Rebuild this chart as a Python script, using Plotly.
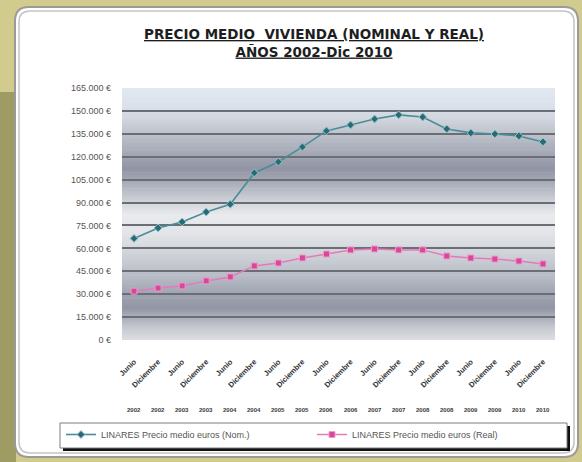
import plotly.graph_objects as go

# ---- data -----------------------------------------------------------------
periods = ["Junio", "Diciembre"] * 9
years = [2002, 2002, 2003, 2003, 2004, 2004, 2005, 2005, 2006, 2006,
         2007, 2007, 2008, 2008, 2009, 2009, 2010, 2010]
nominal = [66500, 73400, 77300, 83800, 88900, 109400, 116600, 126400, 136900,
           140800, 144700, 147400, 146000, 138200, 135600, 134900, 133600, 129700]
real = [32000, 34000, 35400, 38700, 41300, 48500, 50400, 53700, 56300,
        59000, 59600, 59000, 59000, 55000, 53700, 53000, 51700, 49800]
y_tick_values = [0, 15000, 30000, 45000, 60000, 75000, 90000, 105000,
                 120000, 135000, 150000, 165000]
y_tick_labels = ["0 €", "15.000 €", "30.000 €", "45.000 €", "60.000 €", "75.000 €",
                 "90.000 €", "105.000 €", "120.000 €", "135.000 €", "150.000 €", "165.000 €"]
series_names = ["LINARES Precio medio euros (Nom.)", "LINARES Precio medio euros (Real)"]

# ---- geometry helpers -----------------------------------------------------
W, H = 582, 462
ML, MR, MT, MB = 122, 27, 88, 122
PW, PH = W - ML - MR, H - MT - MB


def px(x):
    return (x - ML) / PW


def py(y):
    return (H - MB - y) / PH


def rounded_rect(x0, y0, x1, y1, r):
    rx, ry = r / PW, r / PH
    a, b, c, d = px(x0), py(y1), px(x1), py(y0)
    return (f"M{a+rx},{b} L{c-rx},{b} Q{c},{b} {c},{b+ry} L{c},{d-ry} Q{c},{d} {c-rx},{d} "
            f"L{a+rx},{d} Q{a},{d} {a},{d-ry} L{a},{b+ry} Q{a},{b} {a+rx},{b} Z")


def hex2rgb(h):
    h = h.lstrip("#")
    return tuple(int(h[i:i + 2], 16) for i in (0, 2, 4))


def mix(c1, c2, t):
    a, b = hex2rgb(c1), hex2rgb(c2)
    return "rgb(%d,%d,%d)" % tuple(round(a[i] + (b[i] - a[i]) * t) for i in range(3))


# banded grey gradient of the plotting area (value, colour)
grad_stops = [(0, "#dcdee3"), (8000, "#c6c9d0"), (21000, "#9296a4"), (30000, "#a0a4b1"),
              (42000, "#b8bcc6"), (55000, "#cdd0d6"), (70000, "#e2e4e8"), (82000, "#e9ebee"),
              (93000, "#c8cbd2"), (104000, "#a6aab6"), (112000, "#9094a4"), (122000, "#a4a8b5"),
              (135000, "#bec2cb"), (145000, "#d1d5dd"), (152000, "#dae0e9"), (165000, "#e2e9f1")]

shapes = []
# page background pieces
shapes.append(dict(type="rect", xref="paper", yref="paper", x0=px(0), x1=px(16),
                   y0=py(462), y1=py(92), fillcolor="#9e9c62", line_width=0, layer="below"))
# white card with double grey border
shapes.append(dict(type="path", xref="paper", yref="paper",
                   path=rounded_rect(15, 7, 578, 457, 14), fillcolor="white",
                   line=dict(color="#9a9a9a", width=2), layer="below"))
shapes.append(dict(type="path", xref="paper", yref="paper",
                   path=rounded_rect(19, 11, 574, 453, 11), fillcolor="white",
                   line=dict(color="#c4c4c4", width=1.5), layer="below"))

n_strips = 110
top = 165000
for i in range(n_strips):
    v0 = top * i / n_strips
    v1 = top * (i + 1) / n_strips
    vm = (v0 + v1) / 2
    for j in range(len(grad_stops) - 1):
        if grad_stops[j][0] <= vm <= grad_stops[j + 1][0]:
            t = (vm - grad_stops[j][0]) / (grad_stops[j + 1][0] - grad_stops[j][0])
            col = mix(grad_stops[j][1], grad_stops[j + 1][1], t)
            break
    # slight overlap hides anti-aliasing seams between strips
    shapes.append(dict(type="rect", xref="paper", yref="y", x0=0, x1=1, y0=v0,
                       y1=min(top, v1 + 400), fillcolor=col, line_width=0, layer="below"))

# legend frame with drop shadow
shapes.append(dict(type="rect", xref="paper", yref="paper", x0=px(63), x1=px(570),
                   y0=py(451), y1=py(426), fillcolor="#111111", line_width=0, layer="above"))
shapes.append(dict(type="rect", xref="paper", yref="paper", x0=px(60), x1=px(567),
                   y0=py(448), y1=py(423), fillcolor="white",
                   line=dict(color="#7c7c7c", width=1), layer="above"))

# ---- figure ---------------------------------------------------------------
x_idx = list(range(len(periods)))

fig = go.Figure()
fig.add_trace(go.Scatter(
    x=x_idx, y=nominal, name=series_names[0], mode="lines+markers",
    line=dict(color="#4a8d98", width=1.6),
    marker=dict(symbol="diamond", size=6, color="#2b6a73",
                line=dict(color="#8cc4cc", width=1)),
))
fig.add_trace(go.Scatter(
    x=x_idx, y=real, name=series_names[1], mode="lines+markers",
    line=dict(color="#e47ab8", width=1.5),
    marker=dict(symbol="square", size=6, color="#d6489a",
                line=dict(color="#ee9ccb", width=1)),
))

annotations = []
for i, yr in enumerate(years):
    annotations.append(dict(x=i, y=py(410), xref="x", yref="paper", text=f"<b>{yr}</b>",
                            showarrow=False, yanchor="middle",
                            font=dict(size=6, color="#3a3a3a", family="Liberation Sans")))

fig.update_layout(
    width=W, height=H,
    margin=dict(l=ML, r=MR, t=MT, b=MB, pad=0, autoexpand=False),
    paper_bgcolor="#d1cb8d",
    plot_bgcolor="#c8cbd2",
    font=dict(family="Liberation Sans", color="#505050"),
    title=dict(
        text="<u><b>PRECIO MEDIO  VIVIENDA (NOMINAL Y REAL)</b></u><br>"
             "<u><b>AÑOS 2002-Dic 2010</b></u>",
        x=314 / W, xanchor="center", xref="container",
        y=1 - 39 / H, yanchor="top", yref="container",
        font=dict(family="DejaVu Sans", size=13.5, color="#1e1e1e"),
    ),
    xaxis=dict(
        range=[-0.5, len(periods) - 0.5],
        tickmode="array", tickvals=x_idx, ticktext=[f"<b>{p}</b>" for p in periods],
        tickangle=-45, tickfont=dict(size=7.5, color="#333333"),
        showgrid=False, zeroline=False, showline=False, ticks="",
        ticklabelstandoff=15, fixedrange=True, automargin=False,
    ),
    yaxis=dict(
        range=[0, 165000],
        tickmode="array", tickvals=y_tick_values, ticktext=y_tick_labels,
        tickfont=dict(size=9, color="#555555"),
        showgrid=True, gridcolor="#6c6e76", gridwidth=1.5,
        zeroline=False, showline=False, ticks="", ticklabelstandoff=10,
        automargin=False,
    ),
    legend=dict(
        orientation="h", x=px(61), y=py(420), xanchor="left", yanchor="top",
        bgcolor="rgba(0,0,0,0)", borderwidth=0,
        font=dict(size=9, color="#555555"),
        entrywidth=206, entrywidthmode="pixels",
    ),
    shapes=shapes,
    annotations=annotations,
    showlegend=True,
)

fig.write_html("out.html")
